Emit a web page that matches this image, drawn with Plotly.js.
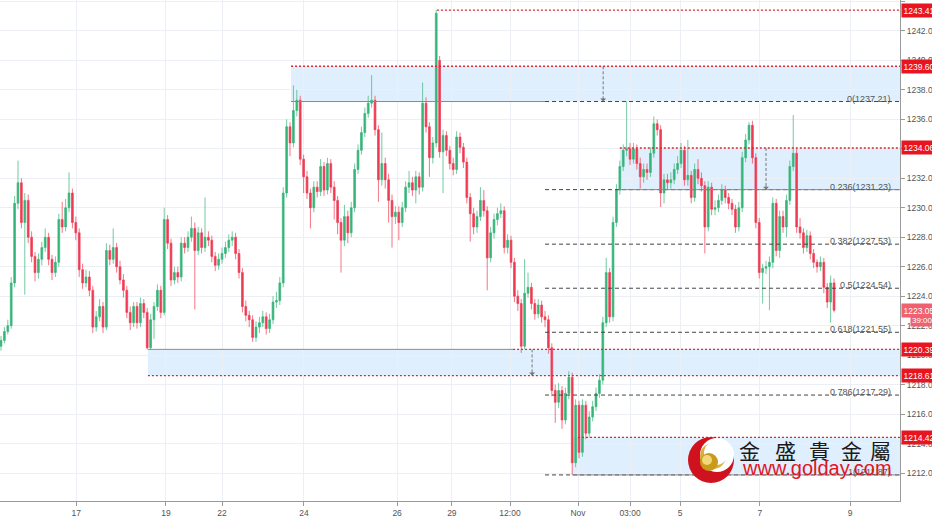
<!DOCTYPE html>
<html><head><meta charset="utf-8">
<script src="https://cdn.plot.ly/plotly-3.0.1.min.js"></script>
<style>html,body{margin:0;padding:0;background:#fff}#chart{width:932px;height:517px}</style>
</head><body><div id="chart"></div>
<script>
// ---- data (2h candles) ----
const opens = [
1220.6,1221.0,1221.6,1222.0,1224.9,1230.3,1231.7,1229.0,1230.5,1228.0,
1226.7,1225.6,1226.5,1227.3,1228.0,1226.5,1225.6,1226.3,1229.2,1228.7,
1230.0,1231.0,1229.0,1228.3,1225.8,1224.9,1225.3,1224.4,1221.9,1222.6,
1223.3,1221.9,1227.1,1226.5,1227.3,1226.0,1225.1,1224.4,1222.9,1222.2,
1223.3,1222.2,1223.5,1222.9,1220.5,1222.4,1223.3,1224.4,1222.9,1229.2,
1227.6,1225.1,1225.6,1225.3,1227.6,1227.3,1228.0,1228.6,1227.1,1228.3,
1227.3,1228.0,1227.8,1226.7,1226.1,1226.5,1226.9,1227.3,1227.8,1228.0,
1226.9,1225.6,1223.3,1222.7,1222.4,1221.2,1221.9,1222.2,1222.6,1221.8,
1222.4,1223.6,1223.7,1224.9,1231.0,1235.5,1234.4,1236.6,1237.3,1233.3,
1232.1,1231.0,1230.0,1231.4,1231.1,1232.8,1231.2,1233.0,1231.4,1230.5,
1229.0,1227.8,1229.4,1228.3,1230.0,1232.6,1233.9,1235.1,1236.4,1237.1,
1237.3,1235.3,1231.9,1233.0,1231.9,1230.5,1229.4,1229.7,1229.0,1230.0,
1231.4,1231.7,1231.2,1232.1,1231.4,1237.1,1235.5,1233.4,1234.4,1240.0,
1233.8,1234.9,1233.9,1233.0,1232.6,1234.8,1234.1,1233.1,1230.7,1229.6,
1228.7,1229.4,1230.5,1229.8,1226.6,1228.3,1229.2,1229.6,1229.8,1227.3,
1227.8,1226.3,1224.0,1223.5,1220.6,1224.2,1224.6,1223.5,1222.8,1223.4,
1222.6,1222.4,1220.5,1217.6,1216.8,1217.6,1215.6,1217.4,1218.5,1212.7,
1216.6,1213.4,1216.6,1214.7,1215.8,1216.5,1217.4,1218.3,1222.2,1225.6,
1222.6,1229.0,1231.2,1232.8,1233.9,1234.0,1233.3,1234.0,1233.0,1232.1,
1232.6,1232.4,1233.7,1235.7,1235.3,1231.0,1231.9,1231.7,1231.9,1232.6,
1233.0,1233.9,1231.9,1232.2,1230.7,1232.6,1232.0,1231.5,1228.7,1231.4,
1229.9,1230.0,1230.5,1231.2,1230.7,1230.3,1229.9,1228.7,1230.0,1233.4,
1234.6,1235.6,1233.4,1229.0,1225.6,1225.9,1226.0,1226.3,1230.3,1227.1,
1229.4,1228.7,1230.5,1232.8,1233.7,1228.7,1228.3,1227.3,1228.1,1226.9,
1226.3,1226.0,1226.3,1224.6,1223.6,1224.9];
const highs = [
1221.3,1221.9,1222.4,1225.3,1230.8,1233.2,1232.0,1231.0,1230.9,1228.4,
1227.0,1226.9,1227.7,1228.6,1228.3,1226.8,1226.7,1229.6,1230.4,1230.6,
1232.4,1231.3,1229.4,1228.6,1226.2,1225.8,1225.7,1224.7,1223.0,1223.8,
1223.6,1227.6,1227.5,1228.6,1227.6,1226.4,1225.5,1224.7,1223.3,1223.6,
1223.6,1223.9,1223.8,1223.2,1222.8,1223.6,1224.8,1224.7,1230.0,1229.5,
1227.9,1226.0,1226.0,1228.0,1228.0,1228.4,1229.4,1229.0,1228.7,1228.6,
1230.7,1228.4,1228.1,1227.0,1226.9,1227.3,1227.7,1228.2,1228.4,1228.3,
1227.2,1225.9,1223.7,1223.0,1222.7,1222.3,1222.6,1223.0,1222.9,1222.8,
1224.0,1224.3,1225.3,1231.4,1236.0,1235.8,1238.3,1238.0,1237.6,1233.6,
1232.5,1231.3,1231.8,1231.8,1233.3,1233.1,1233.4,1233.3,1231.8,1230.8,
1229.3,1230.2,1229.8,1230.4,1233.0,1234.3,1235.5,1236.8,1237.6,1239.0,
1237.6,1235.6,1235.1,1233.4,1232.3,1230.9,1230.1,1230.1,1230.4,1231.8,
1232.5,1232.1,1232.5,1232.4,1238.5,1237.5,1235.8,1234.8,1243.41,1240.3,
1235.3,1235.2,1234.2,1233.4,1235.2,1235.1,1234.4,1233.4,1231.0,1230.0,
1229.8,1231.4,1231.2,1230.1,1228.7,1229.6,1230.0,1230.3,1230.1,1228.2,
1228.1,1226.6,1224.4,1223.8,1226.5,1225.6,1224.9,1223.8,1223.8,1223.7,
1223.0,1222.7,1220.8,1218.0,1218.1,1217.9,1217.8,1218.9,1218.8,1217.0,
1216.9,1217.0,1216.9,1216.2,1216.9,1217.8,1218.7,1222.6,1226.6,1225.9,
1229.4,1231.6,1233.2,1234.3,1237.21,1234.4,1234.4,1234.3,1233.4,1233.0,
1233.0,1234.1,1236.2,1236.0,1235.6,1232.3,1232.3,1232.4,1233.0,1233.5,
1234.4,1234.2,1234.6,1232.5,1233.0,1233.3,1232.4,1231.8,1231.8,1231.7,
1230.5,1230.9,1231.6,1231.5,1231.0,1230.6,1230.2,1230.4,1233.8,1235.0,
1235.8,1235.9,1233.7,1229.3,1226.2,1226.4,1226.7,1230.7,1230.6,1229.8,
1229.8,1230.9,1233.2,1236.3,1234.0,1229.3,1228.6,1228.5,1228.4,1227.2,
1226.5,1226.7,1226.6,1224.9,1225.4,1225.2];
const lows = [
1220.3,1220.8,1221.4,1221.8,1224.6,1229.9,1228.6,1224.1,1227.6,1226.3,
1225.0,1225.2,1226.1,1227.0,1226.1,1225.1,1225.3,1226.0,1228.3,1228.4,
1229.7,1228.6,1227.8,1225.3,1224.5,1224.6,1224.0,1221.5,1221.6,1222.3,
1221.5,1221.7,1226.1,1226.2,1225.6,1224.8,1223.9,1222.5,1221.7,1221.9,
1221.8,1221.9,1222.5,1220.39,1220.4,1221.1,1223.0,1222.5,1222.7,1227.2,
1224.7,1224.8,1224.9,1225.0,1226.9,1227.0,1227.7,1223.1,1226.8,1226.9,
1227.0,1227.4,1226.3,1225.7,1225.8,1226.2,1226.6,1227.0,1227.4,1226.5,
1225.2,1222.9,1222.3,1221.9,1220.9,1220.9,1221.5,1221.9,1221.4,1221.5,
1222.1,1223.2,1223.4,1224.6,1230.7,1233.5,1234.1,1236.2,1232.9,1231.0,
1230.6,1228.6,1229.7,1230.7,1230.8,1230.8,1230.9,1231.0,1229.2,1228.2,
1225.6,1227.4,1227.6,1228.0,1229.7,1232.3,1233.6,1234.8,1236.1,1236.8,
1234.9,1230.4,1231.5,1231.3,1229.0,1227.3,1228.9,1227.8,1228.7,1229.7,
1231.0,1230.8,1230.3,1230.9,1231.1,1235.1,1232.1,1233.0,1234.1,1233.4,
1231.0,1233.5,1232.6,1232.2,1232.3,1233.7,1232.7,1230.3,1227.7,1228.2,
1228.3,1229.1,1229.4,1224.4,1226.3,1227.9,1228.8,1229.3,1226.9,1226.9,
1225.9,1223.6,1223.0,1220.15,1220.4,1223.9,1223.1,1222.4,1222.5,1222.2,
1221.9,1220.1,1217.2,1215.4,1216.4,1215.0,1215.3,1217.0,1211.87,1212.4,
1213.0,1213.1,1214.3,1214.4,1215.5,1216.2,1217.1,1218.0,1221.9,1222.2,
1222.3,1228.7,1230.9,1232.5,1233.5,1232.9,1233.0,1232.6,1231.3,1231.7,
1231.9,1232.1,1233.4,1234.9,1230.05,1230.3,1231.2,1231.3,1231.6,1232.3,
1232.7,1231.5,1231.5,1230.3,1230.4,1231.6,1231.1,1226.9,1228.4,1229.5,
1229.5,1229.7,1230.2,1230.3,1229.9,1229.5,1228.3,1228.4,1229.7,1233.1,
1234.3,1233.0,1228.6,1225.2,1223.5,1225.5,1223.05,1225.9,1226.7,1226.6,
1228.3,1228.0,1230.2,1232.5,1228.3,1227.9,1226.9,1227.0,1226.5,1225.9,
1225.6,1225.7,1224.2,1223.2,1222.2,1222.9];
const closes = [
1221.0,1221.6,1222.0,1224.9,1230.3,1231.7,1229.0,1230.5,1228.0,1226.7,
1225.6,1226.5,1227.3,1228.0,1226.5,1225.6,1226.3,1229.2,1228.7,1230.0,
1231.0,1229.0,1228.3,1225.8,1224.9,1225.3,1224.4,1221.9,1222.6,1223.3,
1221.9,1227.1,1226.5,1227.3,1226.0,1225.1,1224.4,1222.9,1222.2,1223.3,
1222.2,1223.5,1222.9,1220.5,1222.4,1223.3,1224.4,1222.9,1229.2,1227.6,
1225.1,1225.6,1225.3,1227.6,1227.3,1228.0,1228.6,1227.1,1228.3,1227.3,
1228.0,1227.8,1226.7,1226.1,1226.5,1226.9,1227.3,1227.8,1228.0,1226.9,
1225.6,1223.3,1222.7,1222.4,1221.2,1221.9,1222.2,1222.6,1221.8,1222.4,
1223.6,1223.7,1224.9,1231.0,1235.5,1234.4,1236.6,1237.3,1233.3,1232.1,
1231.0,1230.0,1231.4,1231.1,1232.8,1231.2,1233.0,1231.4,1230.5,1229.0,
1227.8,1229.4,1228.3,1230.0,1232.6,1233.9,1235.1,1236.4,1237.1,1237.3,
1235.3,1231.9,1233.0,1231.9,1230.5,1229.4,1229.7,1229.0,1230.0,1231.4,
1231.7,1231.2,1232.1,1231.4,1237.1,1235.5,1233.4,1234.4,1243.2,1233.8,
1234.9,1233.9,1233.0,1232.6,1234.8,1234.1,1233.1,1230.7,1229.6,1228.7,
1229.4,1230.5,1229.8,1226.6,1228.3,1229.2,1229.6,1229.8,1227.3,1227.8,
1226.3,1224.0,1223.5,1220.6,1224.2,1224.6,1223.5,1222.8,1223.4,1222.6,
1222.4,1220.5,1217.6,1216.8,1217.6,1215.6,1217.4,1218.5,1212.7,1216.6,
1213.4,1216.6,1214.7,1215.8,1216.5,1217.4,1218.3,1222.2,1225.6,1222.6,
1229.0,1231.2,1232.8,1233.9,1234.0,1233.3,1234.0,1233.0,1232.1,1232.6,
1232.4,1233.7,1235.7,1235.3,1231.0,1231.9,1231.7,1231.9,1232.6,1233.0,
1233.9,1231.9,1232.2,1230.7,1232.6,1232.0,1231.5,1228.7,1231.4,1229.9,
1230.0,1230.5,1231.2,1230.7,1230.3,1229.9,1228.7,1230.0,1233.4,1234.6,
1235.6,1233.4,1229.0,1225.6,1225.9,1226.0,1226.3,1230.3,1227.1,1229.4,
1228.7,1230.5,1232.8,1233.7,1228.7,1228.3,1227.3,1228.1,1226.9,1226.3,
1226.0,1226.3,1224.6,1223.6,1224.9,1223.05];

const tickIndex  = [22.1, 48.5, 65, 89.1, 116.5, 132.6, 149.7, 169.7, 185, 199.7, 223.2, 249.7];
const tickLabels = ['17','19','22','24','26','29','12:00','Nov','03:00','5','7','9'];

const fibRatios = ['0','0.236','0.382','0.5','0.618','0.786','1'];
const fibLevels = [1237.21, 1231.23, 1227.53, 1224.54, 1221.55, 1217.29, 1211.87];
const fibStartIndex = 160;

const tagLevels = [1243.41, 1239.60, 1234.06, 1220.39, 1218.61, 1214.42];
const lastPrice = 1223.05;
const countdown = '39:00';

// zones: start candle index, top, bottom
const zoneStart  = [85.3, 182, 43.2, 168];
const zoneTop    = [1239.60, 1234.06, 1220.39, 1214.42];
const zoneBottom = [1237.21, 1231.23, 1218.61, 1211.87];

// ---- chart ----
const idx = closes.map((_, i) => i);
const XMIN = -0.294, XMAX = 264.4;
const YMIN = 1210.10, YMAX = 1244.10;
const RED = '#ef3b53', GREEN = '#37b57a';
const DOT_RED = '#e1242f';

const trace = {
  type: 'candlestick', x: idx, open: opens, high: highs, low: lows, close: closes,
  increasing: {line: {color: GREEN, width: 0.7}, fillcolor: GREEN},
  decreasing: {line: {color: RED, width: 0.7}, fillcolor: RED},
  whiskerwidth: 0, hoverinfo: 'skip', showlegend: false
};

const shapes = [];
const line = (x0, x1, y0, y1, color, dash, width) => shapes.push({
  type: 'line', xref: 'x', yref: 'y', x0, x1, y0, y1, layer: 'above',
  line: {color, dash, width}
});

// zone fills
for (let k = 0; k < zoneStart.length; k++) {
  shapes.push({type: 'rect', xref: 'x', yref: 'y', x0: zoneStart[k], x1: XMAX,
    y0: zoneBottom[k], y1: zoneTop[k], fillcolor: 'rgba(197,226,252,0.55)',
    line: {width: 0}, layer: 'below'});
}
// fib dashed lines
fibLevels.forEach(v => line(fibStartIndex, XMAX, v, v, '#444', '4px,3px', 1));
// zone borders
line(zoneStart[0], fibStartIndex, zoneBottom[0], zoneBottom[0], '#8a8a8a', 'solid', 1);
line(zoneStart[1], XMAX, zoneBottom[1], zoneBottom[1], '#8a8a8a', 'solid', 1);
line(zoneStart[2], 150.6, zoneTop[2], zoneTop[2], '#8a8a8a', 'solid', 1);
line(zoneStart[3], XMAX, zoneBottom[3], zoneBottom[3], '#8a8a8a', 'solid', 1);
// red dotted levels
line(128.2, XMAX, tagLevels[0], tagLevels[0], DOT_RED, '2px,2px', 1.4);
line(zoneStart[0], XMAX, zoneTop[0], zoneTop[0], DOT_RED, '2px,2px', 1.4);
line(zoneStart[1], XMAX, zoneTop[1], zoneTop[1], DOT_RED, '2px,2px', 1.4);
line(150.6, XMAX, zoneTop[2], zoneTop[2], DOT_RED, '2px,2px', 1.4);
line(zoneStart[2], XMAX, zoneBottom[2], zoneBottom[2], DOT_RED, '2px,2px', 1.4);
line(169.7, XMAX, zoneTop[3], zoneTop[3], DOT_RED, '2px,2px', 1.4);
// measuring arrows (dashed)
const arrows = [[177.1, zoneTop[0], zoneBottom[0]], [225, zoneTop[1], zoneBottom[1]], [156.2, zoneTop[2], zoneBottom[2]]];
arrows.forEach(a => line(a[0], a[0], a[1], a[2], '#777', '3px,2px', 1));

// logo (paper coords from pixel positions)
const PW = 900, PH = 501;
const px = x => x / PW, py = y => 1 - y / PH;
const circ = (cx, cy, r, fill) => shapes.push({type: 'circle', xref: 'paper', yref: 'paper',
  x0: px(cx - r), x1: px(cx + r), y0: py(cy + r), y1: py(cy - r), fillcolor: fill, line: {width: 0}, layer: 'above'});
circ(711, 460, 23, '#d0121e');
circ(717, 455, 17, '#ffffff');
circ(713, 456, 13, '#d9b13a');
circ(716, 453, 12, '#ffffff');
circ(709, 462, 9, '#c99a1c');
circ(707, 460, 5, '#f3d77a');

const annotations = [];
// fib labels
fibLevels.forEach((v, k) => annotations.push({
  xref: 'x', yref: 'y', x: 262.4, y: v, xanchor: 'right', yanchor: 'bottom', yshift: -4,
  text: fibRatios[k] + '(' + v.toFixed(2) + ')', showarrow: false,
  font: {family: 'Liberation Sans, Arial, sans-serif', size: 9, color: '#555'}
}));
// arrow heads
arrows.forEach(a => annotations.push({xref: 'x', yref: 'y', x: a[0], y: a[2], ax: 0, ay: -5,
  showarrow: true, arrowhead: 1, arrowsize: 1, arrowwidth: 1, arrowcolor: '#777', text: ''}));
// red price tags on the axis
tagLevels.forEach(v => annotations.push({
  xref: 'paper', yref: 'y', x: 1, y: v, xanchor: 'left', yanchor: 'middle', xshift: 1,
  text: v.toFixed(2), showarrow: false, bgcolor: '#e8141f', borderpad: 1.5,
  font: {family: 'Liberation Sans, Arial, sans-serif', size: 8.5, color: '#fff'}
}));
annotations.push({xref: 'paper', yref: 'y', x: 1, y: lastPrice, xanchor: 'left', yanchor: 'middle', xshift: 1,
  text: lastPrice.toFixed(2), showarrow: false, bgcolor: '#f0606f', borderpad: 1.5,
  font: {family: 'Liberation Sans, Arial, sans-serif', size: 8.5, color: '#fff'}});
annotations.push({xref: 'paper', yref: 'y', x: 1, y: lastPrice, xanchor: 'left', yanchor: 'middle', xshift: 10, yshift: -10,
  text: countdown, showarrow: false, bgcolor: '#f0606f', borderpad: 1,
  font: {family: 'Liberation Sans, Arial, sans-serif', size: 8, color: '#fff'}});
// watermark
const wmChars = ['金', '盛', '貴', '金', '屬'];
const wmX = [749, 785, 819, 851, 880];
wmChars.forEach((ch, k) => annotations.push({xref: 'paper', yref: 'paper', x: px(wmX[k]), y: py(450),
  xanchor: 'center', yanchor: 'middle', text: ch, showarrow: false,
  font: {family: 'Noto Sans CJK TC, Noto Sans CJK SC, sans-serif', size: 21, color: '#1a1a1a'}}));
annotations.push({xref: 'paper', yref: 'paper', x: px(817), y: py(468), xanchor: 'center', yanchor: 'middle',
  text: 'www.golday.com', showarrow: false,
  font: {family: 'Liberation Sans, Arial, sans-serif', size: 20, color: '#e3141f'}});

const layout = {
  width: 932, height: 517,
  margin: {l: 0, r: 32, t: 0, b: 16, pad: 0},
  paper_bgcolor: '#ffffff', plot_bgcolor: '#ffffff',
  showlegend: false, boxgap: 0.25, hovermode: false,
  xaxis: {range: [XMIN, XMAX], tickvals: tickIndex, ticktext: tickLabels, showgrid: true,
    gridcolor: '#eceff3', gridwidth: 1, zeroline: false, showline: true, linecolor: '#9a9a9a',
    ticks: 'outside', ticklen: 4, tickcolor: '#9a9a9a', rangeslider: {visible: false},
    tickfont: {family: 'Liberation Sans, Arial, sans-serif', size: 8.5, color: '#555'}, fixedrange: true},
  yaxis: {side: 'right', range: [YMIN, YMAX], tick0: 1210, dtick: 2, tickformat: '.2f',
    showgrid: true, gridcolor: '#eceff3', zeroline: false, showline: true, linecolor: '#9a9a9a',
    ticks: 'outside', ticklen: 4, tickcolor: '#9a9a9a',
    tickfont: {family: 'Liberation Sans, Arial, sans-serif', size: 8.5, color: '#555'}, fixedrange: true},
  shapes, annotations
};

Plotly.newPlot('chart', [trace], layout, {displayModeBar: false, staticPlot: true});
</script>
</body></html>
